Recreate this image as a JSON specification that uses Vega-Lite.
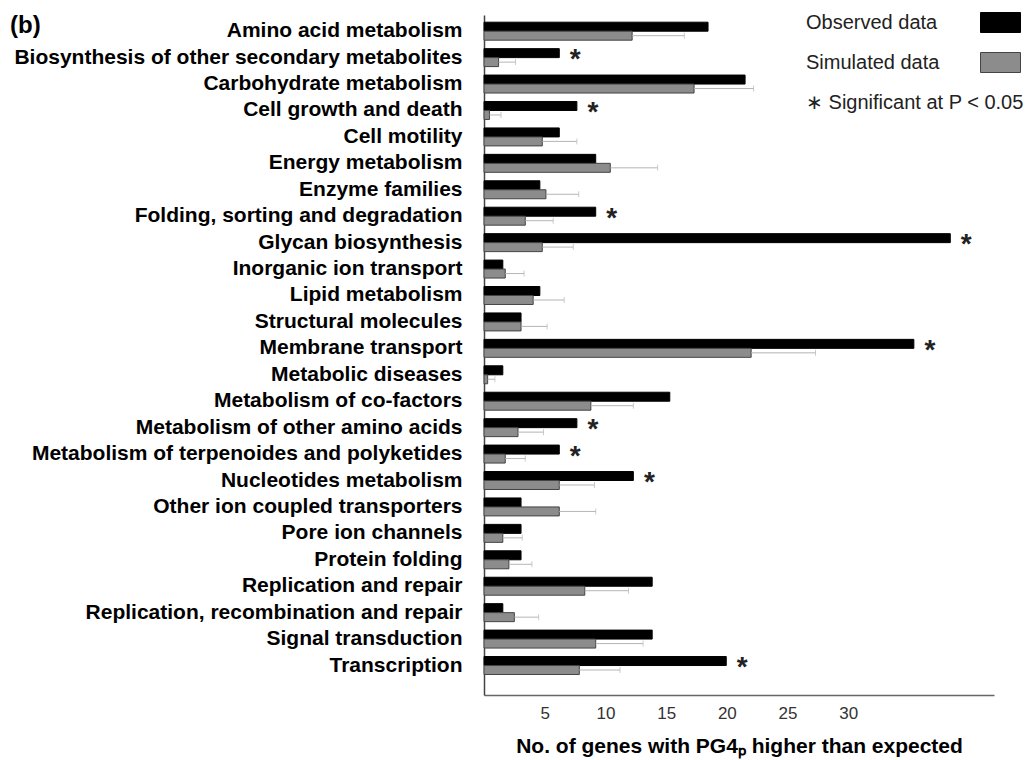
{
  "$schema": "https://vega.github.io/schema/vega-lite/v6.json",
  "autosize": "none",
  "width": 510,
  "height": 680,
  "padding": {"left": 484, "top": 15, "right": 38, "bottom": 65},
  "background": "white",
  "title": {"text": "(b)", "anchor": "start", "frame": "group", "dx": -474, "fontSize": 24, "fontWeight": "bold", "font": "Liberation Sans", "color": "#000", "baseline": "top", "offset": 0, "dy": 36},
  "config": {
    "view": {"stroke": null},
    "font": "Liberation Sans"
  },
  "datasets": {
    "bars": [
      {"category": "Amino acid metabolism", "series": "Observed data", "value": 18.45, "sig": false},
      {"category": "Amino acid metabolism", "series": "Simulated data", "value": 12.2, "upper": 16.5},
      {"category": "Biosynthesis of other secondary metabolites", "series": "Observed data", "value": 6.2, "sig": true},
      {"category": "Biosynthesis of other secondary metabolites", "series": "Simulated data", "value": 1.2, "upper": 2.6},
      {"category": "Carbohydrate metabolism", "series": "Observed data", "value": 21.5, "sig": false},
      {"category": "Carbohydrate metabolism", "series": "Simulated data", "value": 17.3, "upper": 22.2},
      {"category": "Cell growth and death", "series": "Observed data", "value": 7.65, "sig": true},
      {"category": "Cell growth and death", "series": "Simulated data", "value": 0.45, "upper": 1.4},
      {"category": "Cell motility", "series": "Observed data", "value": 6.2, "sig": false},
      {"category": "Cell motility", "series": "Simulated data", "value": 4.8, "upper": 7.65},
      {"category": "Energy metabolism", "series": "Observed data", "value": 9.2, "sig": false},
      {"category": "Energy metabolism", "series": "Simulated data", "value": 10.4, "upper": 14.3},
      {"category": "Enzyme families", "series": "Observed data", "value": 4.6, "sig": false},
      {"category": "Enzyme families", "series": "Simulated data", "value": 5.1, "upper": 7.8},
      {"category": "Folding, sorting and degradation", "series": "Observed data", "value": 9.2, "sig": true},
      {"category": "Folding, sorting and degradation", "series": "Simulated data", "value": 3.4, "upper": 5.7},
      {"category": "Glycan biosynthesis", "series": "Observed data", "value": 38.4, "sig": true},
      {"category": "Glycan biosynthesis", "series": "Simulated data", "value": 4.8, "upper": 7.35},
      {"category": "Inorganic ion transport", "series": "Observed data", "value": 1.55, "sig": false},
      {"category": "Inorganic ion transport", "series": "Simulated data", "value": 1.75, "upper": 3.3},
      {"category": "Lipid metabolism", "series": "Observed data", "value": 4.6, "sig": false},
      {"category": "Lipid metabolism", "series": "Simulated data", "value": 4.05, "upper": 6.6},
      {"category": "Structural molecules", "series": "Observed data", "value": 3.05, "sig": false},
      {"category": "Structural molecules", "series": "Simulated data", "value": 3.05, "upper": 5.2},
      {"category": "Membrane transport", "series": "Observed data", "value": 35.4, "sig": true},
      {"category": "Membrane transport", "series": "Simulated data", "value": 22.0, "upper": 27.3},
      {"category": "Metabolic diseases", "series": "Observed data", "value": 1.55, "sig": false},
      {"category": "Metabolic diseases", "series": "Simulated data", "value": 0.3, "upper": 0.9},
      {"category": "Metabolism of co-factors", "series": "Observed data", "value": 15.3, "sig": false},
      {"category": "Metabolism of co-factors", "series": "Simulated data", "value": 8.8, "upper": 12.3},
      {"category": "Metabolism of other amino acids", "series": "Observed data", "value": 7.65, "sig": true},
      {"category": "Metabolism of other amino acids", "series": "Simulated data", "value": 2.8, "upper": 4.9},
      {"category": "Metabolism of terpenoides and polyketides", "series": "Observed data", "value": 6.2, "sig": true},
      {"category": "Metabolism of terpenoides and polyketides", "series": "Simulated data", "value": 1.75, "upper": 3.4},
      {"category": "Nucleotides metabolism", "series": "Observed data", "value": 12.3, "sig": true},
      {"category": "Nucleotides metabolism", "series": "Simulated data", "value": 6.2, "upper": 9.1},
      {"category": "Other ion coupled transporters", "series": "Observed data", "value": 3.05, "sig": false},
      {"category": "Other ion coupled transporters", "series": "Simulated data", "value": 6.2, "upper": 9.2},
      {"category": "Pore ion channels", "series": "Observed data", "value": 3.05, "sig": false},
      {"category": "Pore ion channels", "series": "Simulated data", "value": 1.55, "upper": 3.15},
      {"category": "Protein folding", "series": "Observed data", "value": 3.05, "sig": false},
      {"category": "Protein folding", "series": "Simulated data", "value": 2.05, "upper": 3.95},
      {"category": "Replication and repair", "series": "Observed data", "value": 13.85, "sig": false},
      {"category": "Replication and repair", "series": "Simulated data", "value": 8.3, "upper": 11.9},
      {"category": "Replication, recombination and repair", "series": "Observed data", "value": 1.55, "sig": false},
      {"category": "Replication, recombination and repair", "series": "Simulated data", "value": 2.5, "upper": 4.5},
      {"category": "Signal transduction", "series": "Observed data", "value": 13.85, "sig": false},
      {"category": "Signal transduction", "series": "Simulated data", "value": 9.2, "upper": 13.1},
      {"category": "Transcription", "series": "Observed data", "value": 19.95, "sig": true},
      {"category": "Transcription", "series": "Simulated data", "value": 7.85, "upper": 11.2}
    ]
  },
  "data": {"name": "bars"},
  "encoding": {
    "y": {
      "field": "category", "type": "nominal", "sort": null,
      "scale": {"paddingInner": 0.32, "paddingOuter": 0.524, "align": 0.26},
      "axis": {"title": null, "ticks": false, "labelPadding": 22, "labelLimit": 0, "labelFont": "Liberation Sans", "labelFontSize": 21, "labelFontWeight": "bold", "labelColor": "#000", "domainColor": "#444", "domainWidth": 1.5}
    },
    "yOffset": {"field": "series", "type": "nominal", "scale": {"domain": ["Observed data", "Simulated data"], "paddingInner": 0, "paddingOuter": 0}}
  },
  "layer": [
    {
      "mark": {"type": "bar", "strokeWidth": 1},
      "encoding": {
        "x": {
          "field": "value", "type": "quantitative",
          "scale": {"domain": [0, 42], "nice": false},
          "axis": {"values": [5, 10, 15, 20, 25, 30], "ticks": false, "grid": false, "labelFont": "Liberation Sans", "labelFontSize": 17, "labelColor": "#333", "labelPadding": 10, "domainColor": "#666", "domainWidth": 1.5, "title": "No. of genes with PG4ₚ higher than expected", "titleFont": "Liberation Sans", "titleFontSize": 21, "titleFontWeight": "bold", "titleColor": "#000", "titlePadding": 14}
        },
        "fill": {
          "field": "series", "type": "nominal",
          "scale": {"domain": ["Observed data", "Simulated data", "∗  Significant at P < 0.05"], "range": ["#000000", "#8c8c8c", "rgba(255,255,255,0)"]},
          "legend": {"title": null, "orient": "none", "legendX": 321, "legendY": -13, "padding": 0, "symbolType": "M-1,-0.5H1V0.5H-1Z", "symbolSize": 1600, "symbolOffset": 175, "labelOffset": -215, "labelLimit": 0, "labelFont": "Liberation Sans", "labelFontSize": 20, "labelColor": "#222", "rowPadding": 7, "symbolStrokeWidth": 1}
        },
        "stroke": {
          "field": "series", "type": "nominal",
          "scale": {"domain": ["Observed data", "Simulated data", "∗  Significant at P < 0.05"], "range": ["#000000", "#444444", "rgba(255,255,255,0)"]},
          "legend": null
        }
      }
    },
    {
      "transform": [{"filter": "datum.series == 'Simulated data'"}],
      "mark": {"type": "rule", "color": "#b5b5b5", "strokeWidth": 1},
      "encoding": {
        "x": {"field": "value", "type": "quantitative"},
        "x2": {"field": "upper"}
      }
    },
    {
      "transform": [{"filter": "datum.series == 'Simulated data'"}],
      "mark": {"type": "tick", "orient": "vertical", "color": "#b5b5b5", "size": 6, "thickness": 1},
      "encoding": {
        "x": {"field": "upper", "type": "quantitative"}
      }
    },
    {
      "transform": [{"filter": "datum.sig == true"}],
      "mark": {"type": "text", "text": "*", "dx": 16, "dy": 7, "align": "center", "baseline": "middle", "fontSize": 28, "fontWeight": "bold", "font": "Liberation Sans", "color": "#222"},
      "encoding": {
        "x": {"field": "value", "type": "quantitative"}
      }
    }
  ]
}
